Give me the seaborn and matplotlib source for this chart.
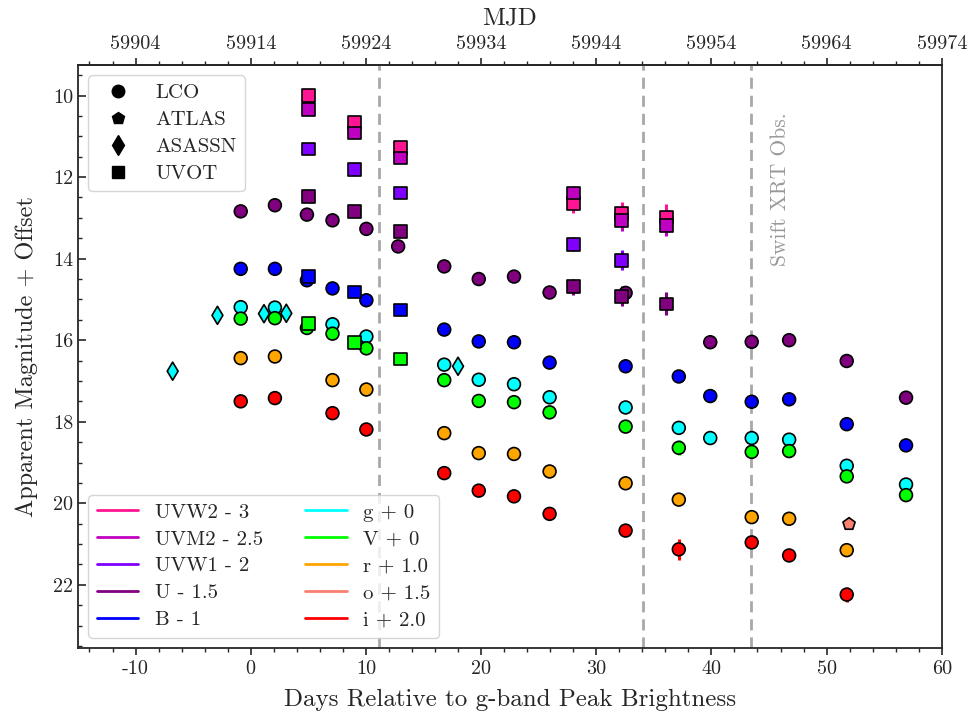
import numpy as np
import pandas as pd
import matplotlib
matplotlib.use("Agg")
import matplotlib.pyplot as plt
import seaborn as sns
from matplotlib.lines import Line2D
from matplotlib.ticker import MultipleLocator, FormatStrFormatter

# ---------------- data (raw magnitudes, days relative to g-band peak) ----------------
bands = ["UVW2", "UVM2", "UVW1", "U", "B", "g", "V", "r", "o", "i"]
offsets = {"UVW2": -3, "UVM2": -2.5, "UVW1": -2, "U": -1.5, "B": -1,
           "g": 0, "V": 0, "r": 1.0, "o": 1.5, "i": 2.0}
offset_labels = ["UVW2 - 3", "UVM2 - 2.5", "UVW1 - 2", "U - 1.5", "B - 1",
                 "g + 0", "V + 0", "r + 1.0", "o + 1.5", "i + 2.0"]
colors = {"UVW2": "#FF1493", "UVM2": "#C000C0", "UVW1": "#8000FF", "U": "#800080",
          "B": "#0000FF", "g": "#00FFFF", "V": "#00FF00", "r": "#FFA500",
          "o": "#FA8072", "i": "#FF0000"}

# LCO
lco_U_day = [-0.87, 2.1, 4.88, 7.1, 10.04, 12.8, 16.8, 19.8, 22.86, 25.95, 32.55, 39.9, 43.5, 46.75, 51.75, 56.9]
lco_U_mag = [14.34, 14.19, 14.42, 14.56, 14.77, 15.20, 15.69, 16.00, 15.94, 16.33, 16.34, 17.55, 17.54, 17.50, 18.01, 18.91]
lco_U_err = [0.03, 0.03, 0.03, 0.03, 0.03, 0.03, 0.03, 0.03, 0.03, 0.04, 0.04, 0.05, 0.05, 0.05, 0.06, 0.07]

lco_B_day = [-0.87, 2.1, 4.88, 7.1, 10.04, 16.8, 19.8, 22.86, 25.95, 32.55, 37.17, 39.9, 43.5, 46.75, 51.75, 56.9]
lco_B_mag = [15.25, 15.25, 15.53, 15.73, 16.02, 16.74, 17.03, 17.05, 17.55, 17.64, 17.89, 18.37, 18.51, 18.45, 19.06, 19.58]
lco_B_err = [0.02, 0.02, 0.02, 0.02, 0.02, 0.03, 0.03, 0.03, 0.03, 0.03, 0.05, 0.04, 0.04, 0.04, 0.05, 0.05]

lco_g_day = [-0.87, 2.1, 7.1, 10.04, 16.8, 19.8, 22.86, 25.95, 32.55, 37.17, 39.9, 43.5, 46.75, 51.75, 56.9]
lco_g_mag = [15.19, 15.20, 15.61, 15.91, 16.60, 16.97, 17.08, 17.40, 17.65, 18.15, 18.40, 18.40, 18.44, 19.08, 19.54]
lco_g_err = [0.02, 0.02, 0.02, 0.02, 0.02, 0.03, 0.03, 0.03, 0.03, 0.06, 0.04, 0.04, 0.04, 0.05, 0.05]

lco_V_day = [-0.87, 2.1, 4.88, 7.1, 10.04, 16.8, 19.8, 22.86, 25.95, 32.55, 37.17, 43.5, 46.75, 51.75, 56.9]
lco_V_mag = [15.47, 15.46, 15.70, 15.84, 16.20, 16.98, 17.49, 17.52, 17.77, 18.12, 18.64, 18.74, 18.72, 19.34, 19.80]
lco_V_err = [0.02, 0.02, 0.02, 0.02, 0.02, 0.03, 0.03, 0.03, 0.03, 0.04, 0.18, 0.06, 0.05, 0.06, 0.10]

lco_r_day = [-0.87, 2.1, 7.1, 10.04, 16.8, 19.8, 22.86, 25.95, 32.55, 37.17, 43.5, 46.75, 51.75]
lco_r_mag = [15.44, 15.40, 15.98, 16.21, 17.28, 17.77, 17.79, 18.22, 18.51, 18.91, 19.34, 19.38, 20.15]
lco_r_err = [0.02, 0.02, 0.02, 0.02, 0.03, 0.03, 0.03, 0.03, 0.04, 0.14, 0.05, 0.09, 0.05]

lco_i_day = [-0.87, 2.1, 7.1, 10.04, 16.8, 19.8, 22.86, 25.95, 32.55, 37.17, 43.5, 46.75, 51.75]
lco_i_mag = [15.50, 15.42, 15.79, 16.19, 17.26, 17.69, 17.83, 18.26, 18.67, 19.13, 18.96, 19.28, 20.24]
lco_i_err = [0.02, 0.02, 0.02, 0.02, 0.03, 0.03, 0.03, 0.03, 0.04, 0.25, 0.14, 0.06, 0.18]

# ATLAS
atlas_o_day = [51.95]
atlas_o_mag = [19.01]
atlas_o_err = [0.05]

# ASASSN
asassn_g_day = [-6.78, -2.89, 1.15, 3.09, 18.0]
asassn_g_mag = [16.76, 15.39, 15.35, 15.34, 16.64]
asassn_g_err = [0.05, 0.04, 0.04, 0.04, 0.05]

# UVOT
uvot_UVW2_day = [5.0, 9.03, 13.0, 28.0, 32.2, 36.1]
uvot_UVW2_mag = [12.99, 13.67, 14.27, 15.64, 15.90, 15.98]
uvot_UVW2_err = [0.05, 0.06, 0.07, 0.23, 0.29, 0.31]

uvot_UVM2_day = [5.0, 9.03, 13.0, 28.0, 32.2, 36.1]
uvot_UVM2_mag = [12.84, 13.42, 14.03, 14.89, 15.57, 15.68]
uvot_UVM2_err = [0.05, 0.06, 0.07, 0.16, 0.24, 0.26]

uvot_UVW1_day = [5.0, 9.03, 13.0, 28.0, 32.2]
uvot_UVW1_mag = [13.31, 13.82, 14.39, 15.65, 16.04]
uvot_UVW1_err = [0.04, 0.05, 0.06, 0.17, 0.25]

uvot_U_day = [5.0, 9.03, 13.0, 28.0, 32.2, 36.1]
uvot_U_mag = [13.97, 14.35, 14.83, 16.19, 16.42, 16.61]
uvot_U_err = [0.04, 0.05, 0.06, 0.20, 0.25, 0.28]

uvot_B_day = [5.0, 9.03, 13.0]
uvot_B_mag = [15.44, 15.82, 16.26]
uvot_B_err = [0.04, 0.05, 0.06]

uvot_V_day = [5.0, 9.03, 13.0]
uvot_V_mag = [15.60, 16.06, 16.46]
uvot_V_err = [0.05, 0.06, 0.10]

xrt_days = [11.17, 34.1, 43.4]
peak_mjd = 59914

# ---------------- assemble table ----------------
series = [
    ("LCO", "U", lco_U_day, lco_U_mag, lco_U_err),
    ("LCO", "B", lco_B_day, lco_B_mag, lco_B_err),
    ("LCO", "g", lco_g_day, lco_g_mag, lco_g_err),
    ("LCO", "V", lco_V_day, lco_V_mag, lco_V_err),
    ("LCO", "r", lco_r_day, lco_r_mag, lco_r_err),
    ("LCO", "i", lco_i_day, lco_i_mag, lco_i_err),
    ("ATLAS", "o", atlas_o_day, atlas_o_mag, atlas_o_err),
    ("ASASSN", "g", asassn_g_day, asassn_g_mag, asassn_g_err),
    ("UVOT", "UVW2", uvot_UVW2_day, uvot_UVW2_mag, uvot_UVW2_err),
    ("UVOT", "UVM2", uvot_UVM2_day, uvot_UVM2_mag, uvot_UVM2_err),
    ("UVOT", "UVW1", uvot_UVW1_day, uvot_UVW1_mag, uvot_UVW1_err),
    ("UVOT", "U", uvot_U_day, uvot_U_mag, uvot_U_err),
    ("UVOT", "B", uvot_B_day, uvot_B_mag, uvot_B_err),
    ("UVOT", "V", uvot_V_day, uvot_V_mag, uvot_V_err),
]
rows = []
for inst, band, d, m, e in series:
    for dd, mm, ee in zip(d, m, e):
        rows.append({"inst": inst, "band": band, "day": dd, "mag": mm + offsets[band], "err": ee})
df = pd.DataFrame(rows)

# ---------------- style ----------------
sns.set_style("ticks")
plt.rcParams["font.family"] = ["cmr10", "DejaVu Serif"]
plt.rcParams["mathtext.fontset"] = "cm"
plt.rcParams["axes.unicode_minus"] = False
plt.rcParams["axes.formatter.use_mathtext"] = False
plt.rcParams["font.size"] = 14

fig = plt.figure(figsize=(9.76, 7.15), dpi=100)
ax = fig.add_axes([0.0799, 0.0937, 0.885, 0.8154])

for xd in xrt_days:
    ax.axvline(xd, color="#a8a8a8", lw=2, ls=(0, (4, 2.5)), zorder=1)
ax.text(46.0, 10.4, "Swift XRT Obs.", rotation=90, ha="center", va="top",
        color="#999999", fontsize=15.5)

for band in bands:
    sub = df[df.band == band]
    ax.errorbar(sub.day, sub.mag, yerr=sub.err, fmt="none", ecolor=colors[band],
                elinewidth=2.2, capsize=0, zorder=2)

sns.scatterplot(data=df, x="day", y="mag", hue="band", style="inst", palette=colors,
                markers={"LCO": "o", "ATLAS": "p", "ASASSN": "d", "UVOT": "s"},
                s=85, edgecolor="black", linewidth=1.2, legend=False, zorder=3, ax=ax)

ax.set_xlim(-15, 60)
ax.set_ylim(23.55, 9.25)
ax.xaxis.set_major_locator(MultipleLocator(10))
ax.xaxis.set_minor_locator(MultipleLocator(2))
ax.yaxis.set_major_locator(MultipleLocator(2))
ax.yaxis.set_minor_locator(MultipleLocator(0.5))
ax.xaxis.set_major_formatter(FormatStrFormatter("%d"))
ax.yaxis.set_major_formatter(FormatStrFormatter("%d"))
ax.tick_params(axis="x", which="major", direction="out", length=5, width=1.2, labelsize=14.5)
ax.tick_params(axis="x", which="minor", direction="out", length=3, width=1)
ax.tick_params(axis="y", which="major", direction="in", length=6, width=1.2, labelsize=14.5)
ax.tick_params(axis="y", which="minor", direction="in", length=3, width=1)
for sp in ax.spines.values():
    sp.set_linewidth(1.3)
ax.set_xlabel("Days Relative to g-band Peak Brightness", fontsize=18, labelpad=8)
ax.set_ylabel("Apparent Magnitude + Offset", fontsize=17.5, labelpad=11)

secax = ax.secondary_xaxis("top", functions=(lambda x: x + peak_mjd, lambda x: x - peak_mjd))
secax.set_xticks(np.arange(59904, 59975, 10))
secax.xaxis.set_minor_locator(MultipleLocator(2))
secax.xaxis.set_major_formatter(FormatStrFormatter("%d"))
secax.tick_params(axis="x", which="major", direction="out", length=5, width=1.2, labelsize=14.5)
secax.tick_params(axis="x", which="minor", direction="out", length=3, width=1)
secax.set_xlabel("MJD", fontsize=18, labelpad=8)
secax.spines["top"].set_linewidth(1.3)

inst_handles = [
    Line2D([], [], marker="o", color="black", ls="none", markersize=9, label="LCO"),
    Line2D([], [], marker="p", color="black", ls="none", markersize=9, label="ATLAS"),
    Line2D([], [], marker="d", color="black", ls="none", markersize=10, label="ASASSN"),
    Line2D([], [], marker="s", color="black", ls="none", markersize=8.5, label="UVOT"),
]
leg1 = ax.legend(handles=inst_handles, loc="upper left", fontsize=15, labelspacing=0.4)
ax.add_artist(leg1)

band_handles = [Line2D([], [], color=colors[b], lw=2, label=lab)
                for b, lab in zip(bands, offset_labels)]
ax.legend(handles=band_handles, loc="lower left", ncol=2, fontsize=15, labelspacing=0.4)

fig.savefig("out.png", dpi=100)
